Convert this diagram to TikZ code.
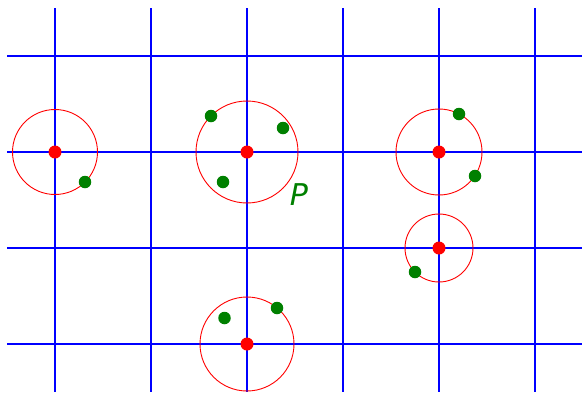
\documentclass[tikz,border=0pt]{standalone}
\usepackage{fontspec}
\setsansfont{DejaVu Sans}
\usetikzlibrary{positioning}
\definecolor{pgreen}{RGB}{0,128,0}
\tikzset{
  sgrid/.style={blue, line width=1.1pt},
  sball/.style={red, line width=0.9pt},
  scenter/.style={circle, fill=red, inner sep=0pt, minimum size=13pt},
  spoint/.style={circle, fill=pgreen, inner sep=0pt, minimum size=12.5pt},
  slabel/.style={text=pgreen, font=\sffamily\itshape\fontsize{30}{30}\selectfont},
}

\begin{document}
\begin{tikzpicture}[x=1pt, y=-1pt]
  \useasboundingbox (0,0) rectangle (582,392);
  % grid
  \foreach \gx in {55,151,247,343,439,535}
    \draw[sgrid] (\gx,8) -- (\gx,392);
  \foreach \gy in {56,152,248,344}
    \draw[sgrid] (7,\gy) -- (582,\gy);
  % balls around the centres
  \node[scenter] (c1) at (55,152) {};
  \node[scenter] (c2) at (247,152) {};
  \node[scenter] (c3) at (439,152) {};
  \node[scenter] (c4) at (439,248) {};
  \node[scenter] (c5) at (247,344) {};
  \draw[sball] (c1.center) circle (42.5);
  \draw[sball] (c2.center) circle (51);
  \draw[sball] (c3.center) circle (43);
  \draw[sball] (c4.center) circle (34);
  \draw[sball] (c5.center) circle (47);
  % points of P
  \node[spoint] (p1) at (85,182) {};
  \node[spoint] (p2) at (211,116) {};
  \node[spoint] (p3) at (283,128) {};
  \node[spoint] (p4) at (223,182) {};
  \node[spoint] (p5) at (459,114) {};
  \node[spoint] (p6) at (475,176) {};
  \node[spoint] (p7) at (415,272) {};
  \node[spoint] (p8) at (224.5,318) {};
  \node[spoint] (p9) at (277,308) {};
  \node[slabel] (lP) at (299,195) {P};
\end{tikzpicture}
\end{document}
